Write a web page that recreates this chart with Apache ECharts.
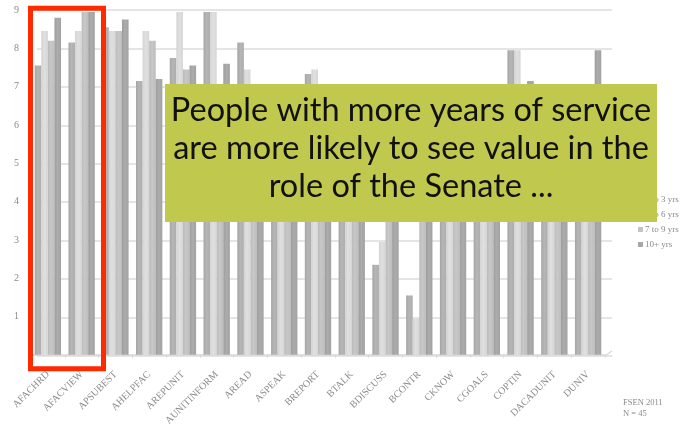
<!DOCTYPE html>
<html>
<head>
<meta charset="utf-8">
<script src="https://cdn.jsdelivr.net/npm/echarts@6/dist/echarts.min.js"></script>
<style>
html,body{margin:0;padding:0;background:#fff;}
#c{width:684px;height:428px;}
</style>
</head>
<body>
<div id="c"></div>
<script>
var categories = ["AFACHRD","AFACVIEW","APSUBEST","AHELPFAC","AREPUNIT","AUNITINFORM","AREAD","ASPEAK","BREPORT","BTALK","BDISCUSS","BCONTR","CKNOW","CGOALS","COPTIN","DACADUNIT","DUNIV"];
var seriesNames = ["0 to 3 yrs","4 to 6 yrs","7 to 9 yrs","10+ yrs"];
var yrs0to3 = [7.55, 8.15, 8.55, 7.15, 7.75, 8.95, 8.15, 6.5, 7.33, 6.6, 2.35, 1.55, 6.8, 6.5, 7.95, 6.6, 6.9];
var yrs4to6 = [8.45, 8.45, 8.45, 8.45, 8.95, 8.95, 7.45, 6.9, 7.45, 6.8, 2.95, 0.95, 6.9, 6.7, 7.95, 6.5, 6.6];
var yrs7to9 = [8.2, 8.95, 8.45, 8.2, 7.45, 6.8, 6.6, 6.7, 6.5, 6.9, 6.7, 6.6, 6.7, 6.8, 6.9, 6.8, 6.9];
var yrs10plus = [8.8, 8.95, 8.75, 7.2, 7.55, 7.6, 6.9, 6.9, 6.9, 7.0, 6.9, 6.9, 6.9, 6.9, 7.15, 6.9, 7.95];
var yTicks = [1,2,3,4,5,6,7,8,9];
var calloutLines = ["People with more years of service","are more likely to see value in the","role of the Senate ..."];
var footnote = ["FSEN 2011","N = 45"];

var values = [yrs0to3, yrs4to6, yrs7to9, yrs10plus];
var baseCols = [
  ["#a4a4a4","#b6b6b6","#adadad"],
  ["#d2d2d2","#e0e0e0","#d6d6d6"],
  ["#bababa","#c8c8c8","#bdbdbd"],
  ["#9c9c9c","#acacac","#a2a2a2"]
];
var legendCols = ["#b0b0b0","#dcdcdc","#c4c4c4","#a8a8a8"];
function grad(c){
  return new echarts.graphic.LinearGradient(0,0,1,0,[
    {offset:0,color:c[0]},{offset:0.45,color:c[1]},{offset:1,color:c[2]}]);
}
var serif = "'Liberation Serif','DejaVu Serif',serif";
var series = seriesNames.map(function(n,i){
  return {
    name:n, type:'bar', xAxisIndex:0, yAxisIndex:0,
    data: values[i], barGap:'0%', barCategoryGap:'22%',
    itemStyle:{color:grad(baseCols[i])},
    emphasis:{disabled:true}, animation:false
  };
});

var chart = echarts.init(document.getElementById('c'), null, {renderer:'canvas'});
var option = {
  animation:false,
  grid:[
    {left:31, right:79, top:10, bottom:72},
    {left:37, right:72, top:10, bottom:72}
  ],
  legend:{
    orient:'vertical', left:633, top:190, itemWidth:5, itemHeight:5, itemGap:6,
    icon:'rect',
    data: seriesNames.map(function(n,i){return {name:n, itemStyle:{color:legendCols[i]}};}),
    textStyle:{fontFamily:serif, fontSize:9, color:'#8a8a8a', padding:[0,0,0,-3]}
  },
  xAxis:[
    {type:'category', gridIndex:0, data:categories,
     axisLine:{show:true, lineStyle:{color:'#d8d8d8', width:1.5}},
     axisTick:{show:true, length:3, lineStyle:{color:'#d8d8d8'}},
     axisLabel:{rotate:45, margin:18, fontFamily:serif, fontSize:10, color:'#8a8a8a', interval:0}},
    {type:'category', gridIndex:1, data:categories, show:false}
  ],
  yAxis:[
    {type:'value', gridIndex:0, min:0, max:9, interval:1,
     splitLine:{show:false}, axisLine:{show:false}, axisTick:{show:false},
     axisLabel:{margin:12, fontFamily:serif, fontSize:10, color:'#8a8a8a',
       formatter:function(v){return yTicks.indexOf(v)>=0 ? String(v) : '';}}},
    {type:'value', gridIndex:1, min:0, max:9, interval:1,
     splitLine:{show:true, lineStyle:{color:'#dcdcdc', width:1.5}},
     axisLine:{show:false}, axisTick:{show:false}, axisLabel:{show:false}}
  ],
  series: series.concat([{type:'bar', xAxisIndex:1, yAxisIndex:1, data:[], silent:true}]),
  graphic:[
    {type:'line', shape:{x1:605, y1:356, x2:612, y2:351}, style:{stroke:'#d8d8d8', lineWidth:1.2}, z:1},
    {type:'rect', shape:{x:30.5, y:8.2, width:73, height:360.5},
     style:{fill:'none', stroke:'#ff2a00', lineWidth:5}, z:100},
    {type:'rect', shape:{x:165, y:84, width:492, height:138},
     style:{fill:'#c0c84e'}, z:101},
    {type:'text', x:411, y:111, style:{text:calloutLines[0], fontFamily:"Lato,'Open Sans',sans-serif", fontSize:32.5, fill:'#111', align:'center', verticalAlign:'middle'}, z:102},
    {type:'text', x:411, y:149, style:{text:calloutLines[1], fontFamily:"Lato,'Open Sans',sans-serif", fontSize:32.5, fill:'#111', align:'center', verticalAlign:'middle'}, z:102},
    {type:'text', x:411, y:187, style:{text:calloutLines[2], fontFamily:"Lato,'Open Sans',sans-serif", fontSize:32.5, fill:'#111', align:'center', verticalAlign:'middle'}, z:102},
    {type:'text', x:623, y:397, style:{text:footnote.join('\n'), fontFamily:serif, fontSize:8.5, lineHeight:11, fill:'#8a8a8a'}, z:102}
  ]
};
chart.setOption(option);
</script>
</body>
</html>
